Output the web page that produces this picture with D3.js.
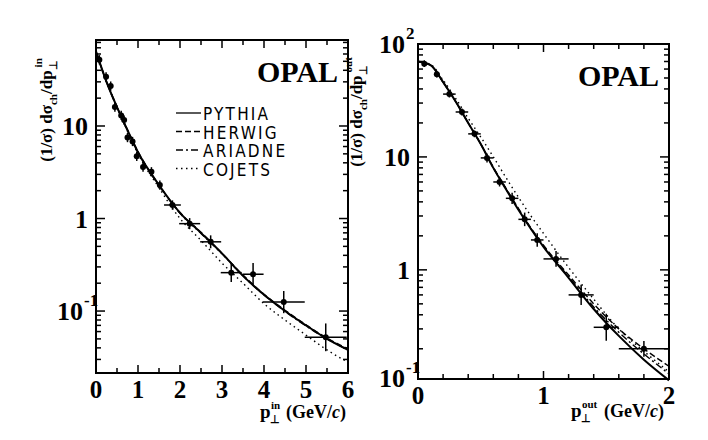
<!DOCTYPE html><html><head><meta charset="utf-8"><script src="https://cdn.jsdelivr.net/npm/d3@7"></script>
<style>body{margin:0;background:#fff}</style></head><body><svg id="c" width="708" height="440"></svg>
<script>
// Left panel data: p_T^in
const inPts = [[0.08,52,0],[0.24,34,0],[0.35,27,0],[0.45,16,0],[0.6,13,0],[0.67,11.6,0],[0.75,7.5,0],[0.87,6.8,0],[0.97,4.7,0],[1.12,3.6,0],[1.32,3.2,0],[1.52,2.3,0],[1.82,1.4,0.2],[2.23,0.88,0.25],[2.73,0.56,0.25],[3.22,0.26,0.25],[3.74,0.25,0.25],[4.47,0.125,0.5],[5.47,0.052,0.5]];
const inYerr = [0.05,0.05,0.05,0.05,0.05,0.05,0.05,0.05,0.05,0.05,0.05,0.05,0.05,0.06,0.07,0.1,0.12,0.12,0.15];
const inX = [0,0.25,0.5,0.75,1,1.5,2,2.5,3,3.5,4,4.5,5,5.5,6];
const inPythia = [64,30,16,9,5.2,2.3,1.15,0.7,0.42,0.24,0.15,0.1,0.07,0.05,0.038];
const inHerwig = [63,30,16,9.1,5.3,2.3,1.16,0.71,0.42,0.245,0.152,0.102,0.071,0.051,0.039];
const inAriadne = [64,30,16,9,5.2,2.28,1.14,0.69,0.415,0.24,0.149,0.099,0.069,0.05,0.038];
const inCojets = [64,30,16,8.8,5,2.15,1.0,0.58,0.33,0.2,0.12,0.08,0.055,0.038,0.028];
// Right panel data: p_T^out
const outPts = [[0.05,67,0],[0.15,54,0],[0.25,36,0.05],[0.35,25,0.05],[0.45,16,0.05],[0.55,9.8,0.05],[0.65,6,0.05],[0.75,4.3,0.05],[0.85,2.8,0.05],[0.95,1.84,0.05],[1.1,1.25,0.1],[1.3,0.6,0.1],[1.5,0.31,0.1],[1.8,0.2,0.2]];
const outYerr = [0.03,0.03,0.03,0.03,0.03,0.04,0.04,0.05,0.06,0.06,0.07,0.09,0.12,0.07];
const outX = [0,0.1,0.2,0.3,0.4,0.5,0.6,0.7,0.8,0.9,1.0,1.2,1.4,1.6,1.8,2.0];
const outPythia = [70,65,46,31,20,13,8,5.2,3.4,2.3,1.6,0.85,0.45,0.26,0.16,0.105];
const outHerwig = [70,65,46,31,20,13,8.1,5.3,3.5,2.35,1.65,0.9,0.5,0.3,0.2,0.14];
const outAriadne = [70,65,46,31,20,13,8,5.25,3.45,2.32,1.62,0.87,0.47,0.28,0.18,0.12];
const outCojets = [70,66,48,33,22,15,10,6.6,4.4,3.0,2.1,1.05,0.55,0.3,0.19,0.125];
const legendNames = ["PYTHIA","HERWIG","ARIADNE","COJETS"];
const dashes = [null,"6,3","7,3,2,3","1.5,3.5"];

const svg = d3.select("#c");
const serif = "'Liberation Serif','Times New Roman',serif";
function txt(x,y,s,size,anchor){
  return svg.append("text").attr("x",x).attr("y",y).attr("text-anchor",anchor||"start").attr("font-family",serif).attr("font-weight","bold").attr("font-size",size).text(s);
}

function panel(o){
  const g = svg.append("g");
  const x = d3.scaleLinear().domain(o.xd).range([o.l,o.r]);
  const y = d3.scaleLog().domain(o.yd).range([o.b,o.t]);
  g.append("rect").attr("x",o.l).attr("y",o.t).attr("width",o.r-o.l).attr("height",o.b-o.t).attr("fill","none").attr("stroke","#000").attr("stroke-width",2);
  o.xMinor.forEach(v=>{const L=o.xMajor.includes(v)?8:5;
    g.append("line").attr("x1",x(v)).attr("x2",x(v)).attr("y1",o.b).attr("y2",o.b-L).attr("stroke","#000").attr("stroke-width",1.5);
    g.append("line").attr("x1",x(v)).attr("x2",x(v)).attr("y1",o.t).attr("y2",o.t+L).attr("stroke","#000").attr("stroke-width",1.5);});
  o.xMajor.forEach(v=>txt(x(v),o.b+25,v,25,"middle"));
  const ticks=[];
  for(let e=-2;e<=2;e++)for(let m=1;m<10;m++){const v=m*Math.pow(10,e);if(v>=o.yd[0]&&v<=o.yd[1])ticks.push([v,m===1]);}
  ticks.forEach(([v,maj])=>{const L=maj?9:5;
    g.append("line").attr("x1",o.l).attr("x2",o.l+L).attr("y1",y(v)).attr("y2",y(v)).attr("stroke","#000").attr("stroke-width",1.5);
    g.append("line").attr("x1",o.r).attr("x2",o.r-L).attr("y1",y(v)).attr("y2",y(v)).attr("stroke","#000").attr("stroke-width",1.5);});
  o.yLabels.forEach(([v,base,exp])=>{
    if(exp){ txt(o.l-13,y(v)+9,base,26,"end"); txt(o.l-12,y(v)-5,exp,17,"start"); }
    else txt(o.l-8,y(v)+9,base,26,"end");
  });
  const line=d3.line().x(d=>x(d[0])).y(d=>y(d[1])).curve(d3.curveMonotoneX);
  o.curves.forEach((c,i)=>{
    g.append("path").attr("d",line(o.cx.map((v,j)=>[v,c[j]]))).attr("fill","none").attr("stroke","#000").attr("stroke-width",i===0?2:1.4).attr("stroke-dasharray",dashes[i]);
  });
  o.pts.forEach((p,i)=>{
    const cx=x(p[0]),cy=y(p[1]),e=o.yerr[i];
    if(p[2]>0) g.append("line").attr("x1",x(p[0]-p[2])).attr("x2",x(p[0]+p[2])).attr("y1",cy).attr("y2",cy).attr("stroke","#000").attr("stroke-width",1.5);
    g.append("line").attr("x1",cx).attr("x2",cx).attr("y1",y(p[1]*Math.pow(10,-e))).attr("y2",y(p[1]*Math.pow(10,e))).attr("stroke","#000").attr("stroke-width",1.5);
    g.append("circle").attr("cx",cx).attr("cy",cy).attr("r",3).attr("fill","#000");
  });
  txt(o.r-10,o.t+42,"OPAL",30,"end");
}

panel({l:96,r:348,t:40,b:373,xd:[0,6],yd:[0.0214,85],xMajor:[0,1,2,3,4,5,6],xMinor:d3.range(0,6.01,0.5).map(v=>+v.toFixed(1)),
  yLabels:[[10,"10"],[1,"1"],[0.1,"10","-1"]],cx:inX,curves:[inPythia,inHerwig,inAriadne,inCojets],pts:inPts,yerr:inYerr});
panel({l:418,r:669,t:44,b:379,xd:[0,2],yd:[0.108,100],xMajor:[0,1,2],xMinor:d3.range(0,2.01,0.2).map(v=>+v.toFixed(1)),
  yLabels:[[100,"10","2"],[10,"10"],[1,"1"]],cx:outX,curves:[outPythia,outHerwig,outAriadne,outCojets],pts:outPts,yerr:outYerr});
txt(405,387,"10",26,"end"); txt(406,373,"-1",17,"start");

legendNames.forEach((n,i)=>{
  const yy=113+i*18.5;
  svg.append("line").attr("x1",176).attr("x2",201).attr("y1",yy).attr("y2",yy).attr("stroke","#000").attr("stroke-width",1.3).attr("stroke-dasharray",dashes[i]);
  svg.append("text").attr("x",203).attr("y",yy+7).attr("font-family","'DejaVu Sans Condensed','DejaVu Sans',sans-serif").attr("font-size",17).attr("letter-spacing",2.2).text(n);
});

function ytitle(xp,yp,sup){
  const t=svg.append("text").attr("transform",`translate(${xp},${yp}) rotate(-90)`).attr("text-anchor","middle").attr("font-family",serif).attr("font-weight","bold").attr("font-size",17);
  t.append("tspan").text("(1/σ) dσ");t.append("tspan").attr("dy",5).attr("font-size",11).text("ch");
  t.append("tspan").attr("dy",-5).text("/dp");t.append("tspan").attr("dy",5).attr("font-size",11).text("⊥");
  t.append("tspan").attr("dx",-7).attr("dy",-15).attr("font-size",11).text(sup);
}
ytitle(52,110,"in");
ytitle(362,112,"out");
function xtitle(xp,yp,sup,w){
  txt(xp,yp,"p",19,"start");
  txt(xp+10,yp+5,"⊥",11,"start");
  txt(xp+11,yp-9,sup,11,"start");
  const t=svg.append("text").attr("x",xp+w).attr("y",yp).attr("font-family",serif).attr("font-weight","bold").attr("font-size",18);
  t.append("tspan").text("(GeV/");t.append("tspan").attr("font-style","italic").text("c");t.append("tspan").text(")");
}
xtitle(260,418,"in",26);
xtitle(571,417,"out",33);
</script></body></html>
